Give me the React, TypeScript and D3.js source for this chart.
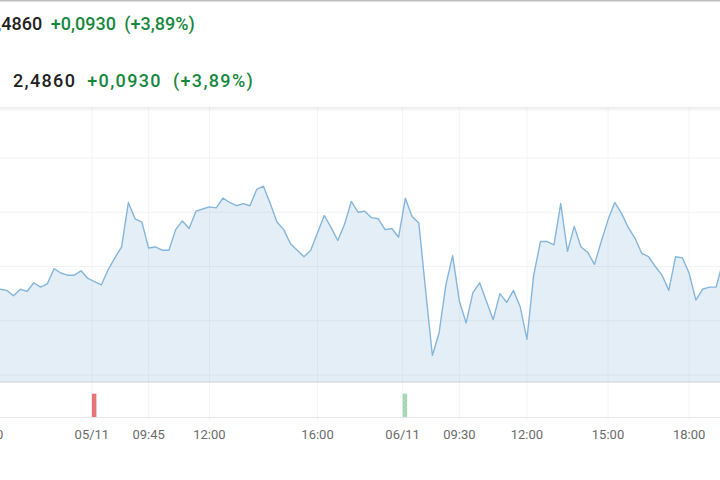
import { useEffect, useRef } from "react";
import * as d3 from "d3";

// Price series, one point every 15 minutes (trading hours only)
const prices = [
  2.379, 2.378, 2.373, 2.379, 2.377, 2.385, 2.381, 2.384, 2.398, 2.394,
  2.392, 2.392, 2.396, 2.389, 2.386, 2.383, 2.397, 2.408, 2.418, 2.459,
  2.444, 2.441, 2.417, 2.418, 2.415, 2.415, 2.434, 2.442, 2.435, 2.451,
  2.453, 2.455, 2.454, 2.463, 2.459, 2.456, 2.458, 2.456, 2.471, 2.474,
  2.458, 2.441, 2.434, 2.421, 2.415, 2.409, 2.415, 2.431, 2.447, 2.436,
  2.424, 2.439, 2.46, 2.45, 2.451, 2.445, 2.444, 2.434, 2.435, 2.427,
  2.463, 2.446, 2.44, 2.378, 2.318, 2.339, 2.383, 2.41, 2.368, 2.348,
  2.376, 2.385, 2.368, 2.351, 2.375, 2.367, 2.378, 2.363, 2.333, 2.392,
  2.423, 2.423, 2.42, 2.458, 2.414, 2.437, 2.418, 2.413, 2.402, 2.423,
  2.443, 2.459, 2.449, 2.436, 2.426, 2.412, 2.409, 2.4, 2.392, 2.378,
  2.409, 2.408, 2.394, 2.369, 2.379, 2.381, 2.381, 2.404,
];

// x-axis ticks, positions given in series index units
const tickIdx = [-1.9, 13.6, 22, 31, 47, 59.6, 68, 78, 90, 102];
const tickLabels = ["18:00", "05/11", "09:45", "12:00", "16:00", "06/11", "09:30", "12:00", "15:00", "18:00"];

// price grid levels
const gridLevels = [2.3, 2.35, 2.4, 2.45, 2.5, 2.55];

// volume markers at session opens
const volIdx = [13.6, 59.6];
const volValues = [1200, 1200];
const volUp = [false, true];

// header quote
const lastPrice = "2,4860";
const change = "+0,0930";
const changePct = "(+3,89%)";

export default function App() {
  const svgRef = useRef<SVGSVGElement | null>(null);

  useEffect(() => {
    document.body.style.margin = "0";
    if (!svgRef.current) return;
    const W = 720;
    const H = 480;
    const svg = d3.select(svgRef.current).attr("width", W).attr("height", H);
    svg.selectAll("*").remove();

    const x = d3.scaleLinear().domain([0, 106]).range([0, 716.1]);
    const y = d3.scaleLinear().domain([2.3, 2.5]).range([375, 158]);
    const vy = d3.scaleLinear().domain([0, 1800]).range([417, 382]);
    const baseY = 382;

    const defs = svg.append("defs");
    const shadow = defs
      .append("linearGradient")
      .attr("id", "hdr-shadow")
      .attr("x1", "0").attr("y1", "0").attr("x2", "0").attr("y2", "1");
    shadow.append("stop").attr("offset", "0%").attr("stop-color", "rgba(0,0,0,0.09)");
    shadow.append("stop").attr("offset", "100%").attr("stop-color", "rgba(0,0,0,0)");

    const hatch = defs
      .append("pattern")
      .attr("id", "hatch")
      .attr("patternUnits", "userSpaceOnUse")
      .attr("width", 3)
      .attr("height", 3)
      .attr("patternTransform", "rotate(45)");
    hatch.append("rect").attr("width", 3).attr("height", 3).attr("fill", "#aedbbb");
    hatch.append("line").attr("x1", 0).attr("y1", 0).attr("x2", 0).attr("y2", 3)
      .attr("stroke", "#8fcaa2").attr("stroke-width", 1.2);

    svg.append("rect").attr("width", W).attr("height", H).attr("fill", "#fff");

    // grid
    const grid = svg.append("g");
    grid.selectAll("line.h")
      .data(gridLevels)
      .join("line")
      .attr("class", "h")
      .attr("x1", 0).attr("x2", W)
      .attr("y1", (d) => y(d)).attr("y2", (d) => y(d))
      .attr("stroke", "#f2f2f2");
    grid.selectAll("line.v")
      .data(tickIdx)
      .join("line")
      .attr("class", "v")
      .attr("x1", (d) => x(d)).attr("x2", (d) => x(d))
      .attr("y1", 107).attr("y2", 421)
      .attr("stroke", "#f4f4f4");

    // price area + line
    const area = d3.area<number>()
      .x((_, i) => x(i))
      .y0(baseY)
      .y1((d) => y(d));
    const line = d3.line<number>()
      .x((_, i) => x(i))
      .y((d) => y(d));

    svg.append("path")
      .datum(prices)
      .attr("d", area)
      .attr("fill", "rgba(120,168,210,0.2)");
    svg.append("path")
      .datum(prices)
      .attr("d", line)
      .attr("fill", "none")
      .attr("stroke", "#86b6dc")
      .attr("stroke-width", 1.4)
      .attr("stroke-linejoin", "round");

    // volume panel borders
    svg.append("line").attr("x1", 0).attr("x2", W).attr("y1", baseY).attr("y2", baseY)
      .attr("stroke", "#cfcfcf").attr("stroke-width", 1.2);
    svg.append("line").attr("x1", 0).attr("x2", W).attr("y1", 417.5).attr("y2", 417.5)
      .attr("stroke", "#e4e9f0");

    svg.append("g")
      .selectAll("rect")
      .data(volIdx)
      .join("rect")
      .attr("x", (d) => x(d))
      .attr("y", (_, i) => vy(volValues[i]))
      .attr("width", 4.5)
      .attr("height", (_, i) => 417 - vy(volValues[i]))
      .attr("fill", (_, i) => (volUp[i] ? "url(#hatch)" : "#e57575"));

    // x labels
    svg.append("g")
      .selectAll("text")
      .data(tickIdx)
      .join("text")
      .attr("x", (d) => x(d))
      .attr("y", 439)
      .attr("text-anchor", "middle")
      .style("font-family", "Roboto, sans-serif")
      .style("font-size", "13px")
      .style("fill", "#6b6b6b")
      .text((_, i) => tickLabels[i]);

    // header card
    svg.append("rect").attr("x", 0).attr("y", 106).attr("width", W).attr("height", 6)
      .attr("fill", "url(#hdr-shadow)");
    svg.append("rect").attr("x", 0).attr("y", 0).attr("width", W).attr("height", 107)
      .attr("fill", "#fff");
    svg.append("line").attr("x1", 0).attr("x2", W).attr("y1", 0.75).attr("y2", 0.75)
      .attr("stroke", "#bdbdbd").attr("stroke-width", 1.5);

    const quote = (x0: number, yb: number, spacing: number, gap: number) => {
      const t = svg.append("text")
        .attr("x", x0)
        .attr("y", yb)
        .style("font-family", "Roboto, sans-serif")
        .style("font-size", "18px")
        .style("font-weight", "500")
        .style("letter-spacing", `${spacing}px`);
      t.append("tspan").style("fill", "#222").text(lastPrice);
      t.append("tspan").attr("dx", gap).style("fill", "#16883e").text(change);
      t.append("tspan").attr("dx", gap).style("fill", "#16883e").text(changePct);
    };
    quote(-13, 30, 0, 8.5);
    quote(13, 87.3, 1.35, 11);
  }, []);

  return <svg ref={svgRef} style={{ display: "block" }} />;
}
